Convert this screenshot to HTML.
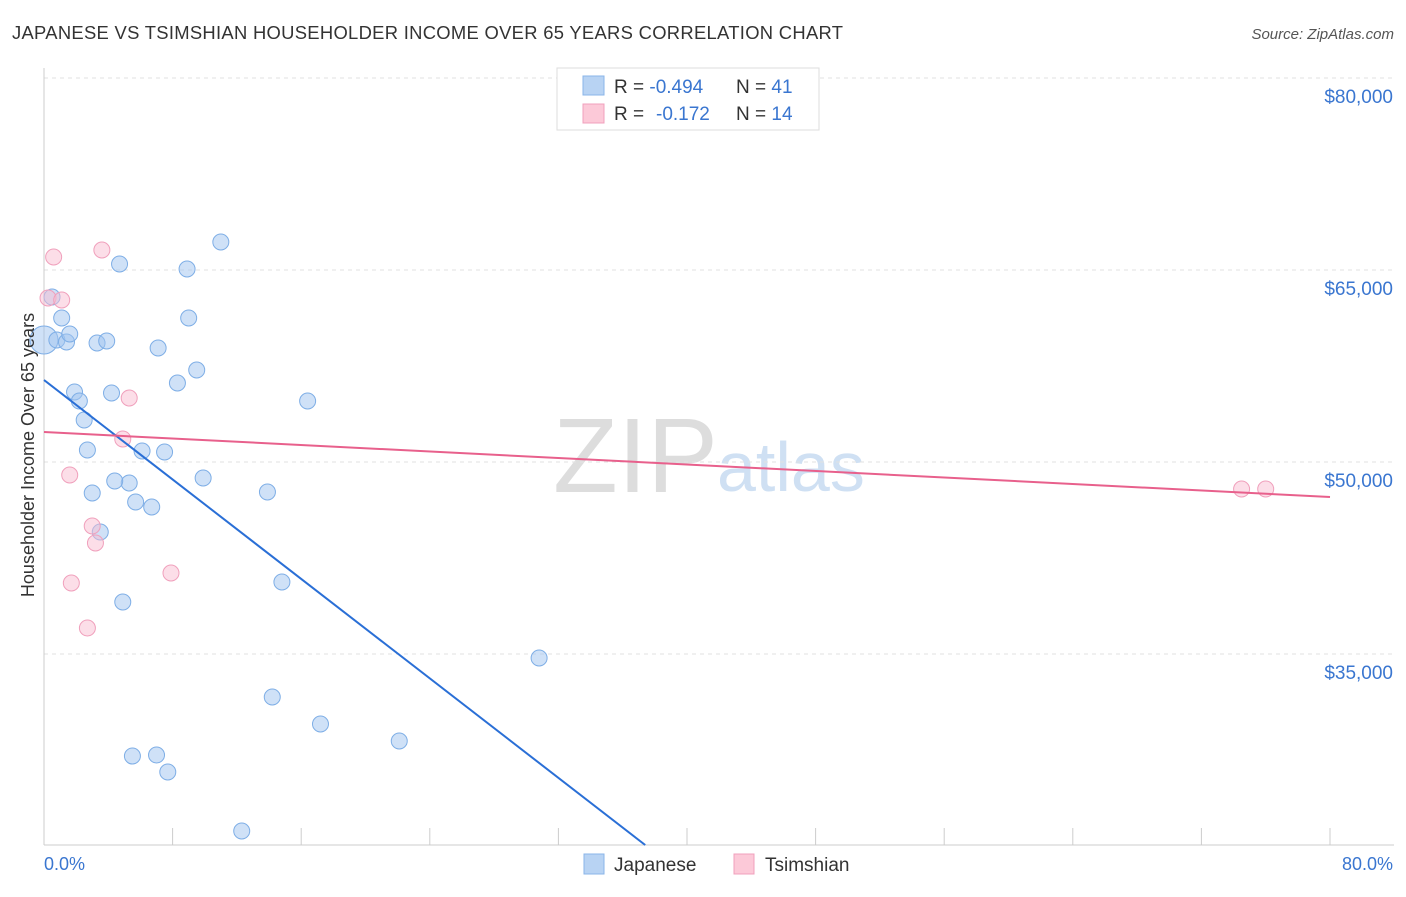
<!DOCTYPE html>
<html><head><meta charset="utf-8"><style>
body{margin:0;background:#fff;font-family:"Liberation Sans",sans-serif}
svg text{font-family:"Liberation Sans",sans-serif}
</style></head><body>
<svg id="c" width="1406" height="892">
<text x="12" y="39" font-size="18.4" letter-spacing="0.3" fill="#333">JAPANESE VS TSIMSHIAN HOUSEHOLDER INCOME OVER 65 YEARS CORRELATION CHART</text>
<text x="1394" y="39" font-size="15" fill="#555" font-style="italic" text-anchor="end">Source: ZipAtlas.com</text>
<text x="553" y="492" font-size="106" fill="#ddd" font-family="Liberation Serif">ZIP</text>
<text x="717" y="491" font-size="70" fill="#cfe0f3">atlas</text>
<g id="grid"></g><g id="pts"></g><g id="trends"></g>
<text transform="translate(34,455) rotate(-90)" font-size="18" fill="#333" text-anchor="middle">Householder Income Over 65 years</text>
<text x="44" y="870" font-size="18" fill="#3a76d0">0.0%</text>
<text x="1393" y="870" font-size="18" fill="#3a76d0" text-anchor="end">80.0%</text>
<g>
<rect x="557" y="68" width="262" height="62" fill="#fff" stroke="#ddd"/>
<rect x="583" y="76" width="21" height="19" fill="#b8d3f3" stroke="#8ab4e8"/>
<rect x="583" y="104" width="21" height="19" fill="#fcc9d8" stroke="#f0a0bc"/>
<text x="614" y="93" font-size="19" fill="#333">R = <tspan fill="#3a76d0">-0.494</tspan><tspan x="736">N = </tspan><tspan fill="#3a76d0">41</tspan></text>
<text x="614" y="120" font-size="19" fill="#333">R = <tspan x="656" fill="#3a76d0">-0.172</tspan><tspan x="736">N = </tspan><tspan fill="#3a76d0">14</tspan></text>
</g>
<g>
<rect x="584" y="854" width="20" height="20" fill="#b8d3f3" stroke="#8ab4e8"/>
<text x="614" y="871" font-size="19" fill="#333">Japanese</text>
<rect x="734" y="854" width="20" height="20" fill="#fcc9d8" stroke="#f0a0bc"/>
<text x="765" y="871" font-size="19" fill="#333">Tsimshian</text>
</g>
</svg>
<script>
const yTicks=[35000,50000,65000,80000];
const yTickLabels=["$35,000","$50,000","$65,000","$80,000"];
const xTicks=[0,8,16,24,32,40,48,56,64,72,80];
const japX=[0,0.5,0.8,1.1,1.4,1.6,1.9,2.2,2.5,2.7,3.0,3.3,3.5,3.9,4.2,4.7,4.9,5.3,5.5,5.7,6.1,6.7,7.0,7.1,7.5,7.7,8.3,8.9,9.0,9.5,9.9,11.0,12.3,13.9,14.2,14.8,16.4,17.2,22.1,30.8,4.4];
const japY=[59531,62891,59531,61250,59375,60000,55469,54766,53281,50938,47578,59297,44531,59453,55391,65469,39063,48359,27031,46875,50859,46484,27109,58906,50781,25781,56172,65078,61250,57188,48750,67188,21172,47656,31641,40625,54766,29531,28203,34688,48516];
const tsiX=[0.25,0.6,1.1,1.6,1.7,2.7,3.0,3.2,3.6,4.9,5.3,7.9,74.5,76.0];
const tsiY=[62813,66016,62656,48984,40547,37031,45000,43672,66563,51797,55000,41328,47891,47891];
const japTrend=[[0,56406],[37.4,20078]];
const tsiTrend=[[0,52344],[80,47266]];
const X=v=>44+v/80*1286;
const Y=v=>78+(80000-v)/15000*192;
const NS="http://www.w3.org/2000/svg";
function mk(t,a,p){const e=document.createElementNS(NS,t);for(const k in a)e.setAttribute(k,a[k]);p.appendChild(e);return e;}
const g=document.getElementById('grid');
yTicks.forEach((v,i)=>{
 const l=mk('line',{x1:44,x2:1394,y1:Y(v),y2:Y(v),stroke:'#e2e2e2','stroke-dasharray':'4,4'},g);
 
 
 const t=mk('text',{x:1393,y:Y(v)+25,'font-size':19,fill:'#3a76d0','text-anchor':'end'},g);
 t.textContent=yTickLabels[i];
 
 
});
const ax=mk('line',{x1:44,x2:1394,y1:845,y2:845,stroke:'#ccc'},g);


const ay=mk('line',{x1:44,x2:44,y1:68,y2:845,stroke:'#ccc'},g);


xTicks.forEach(v=>{
 const l=mk('line',{x1:X(v),x2:X(v),y1:828,y2:845,stroke:'#ccc'},g);
 
 
});
const p=document.getElementById('pts');
japX.forEach((v,i)=>{
 const c=mk('circle',{cx:X(v),cy:Y(japY[i]),r:i===0?14:8,fill:'rgba(160,196,240,0.5)',stroke:'#7eaee6','stroke-width':1},p);
 
 
});
tsiX.forEach((v,i)=>{
 const c=mk('circle',{cx:X(v),cy:Y(tsiY[i]),r:8,fill:'rgba(250,190,210,0.5)',stroke:'#f0a0bc','stroke-width':1},p);
 
 
});
const tr=document.getElementById('trends');
const a=mk('line',{x1:X(japTrend[0][0]),y1:Y(japTrend[0][1]),x2:X(japTrend[1][0]),y2:Y(japTrend[1][1]),stroke:'#2a6fd6','stroke-width':2},tr);


const b=mk('line',{x1:X(tsiTrend[0][0]),y1:Y(tsiTrend[0][1]),x2:X(tsiTrend[1][0]),y2:Y(tsiTrend[1][1]),stroke:'#e8608c','stroke-width':2},tr);


</script>
</body></html>
